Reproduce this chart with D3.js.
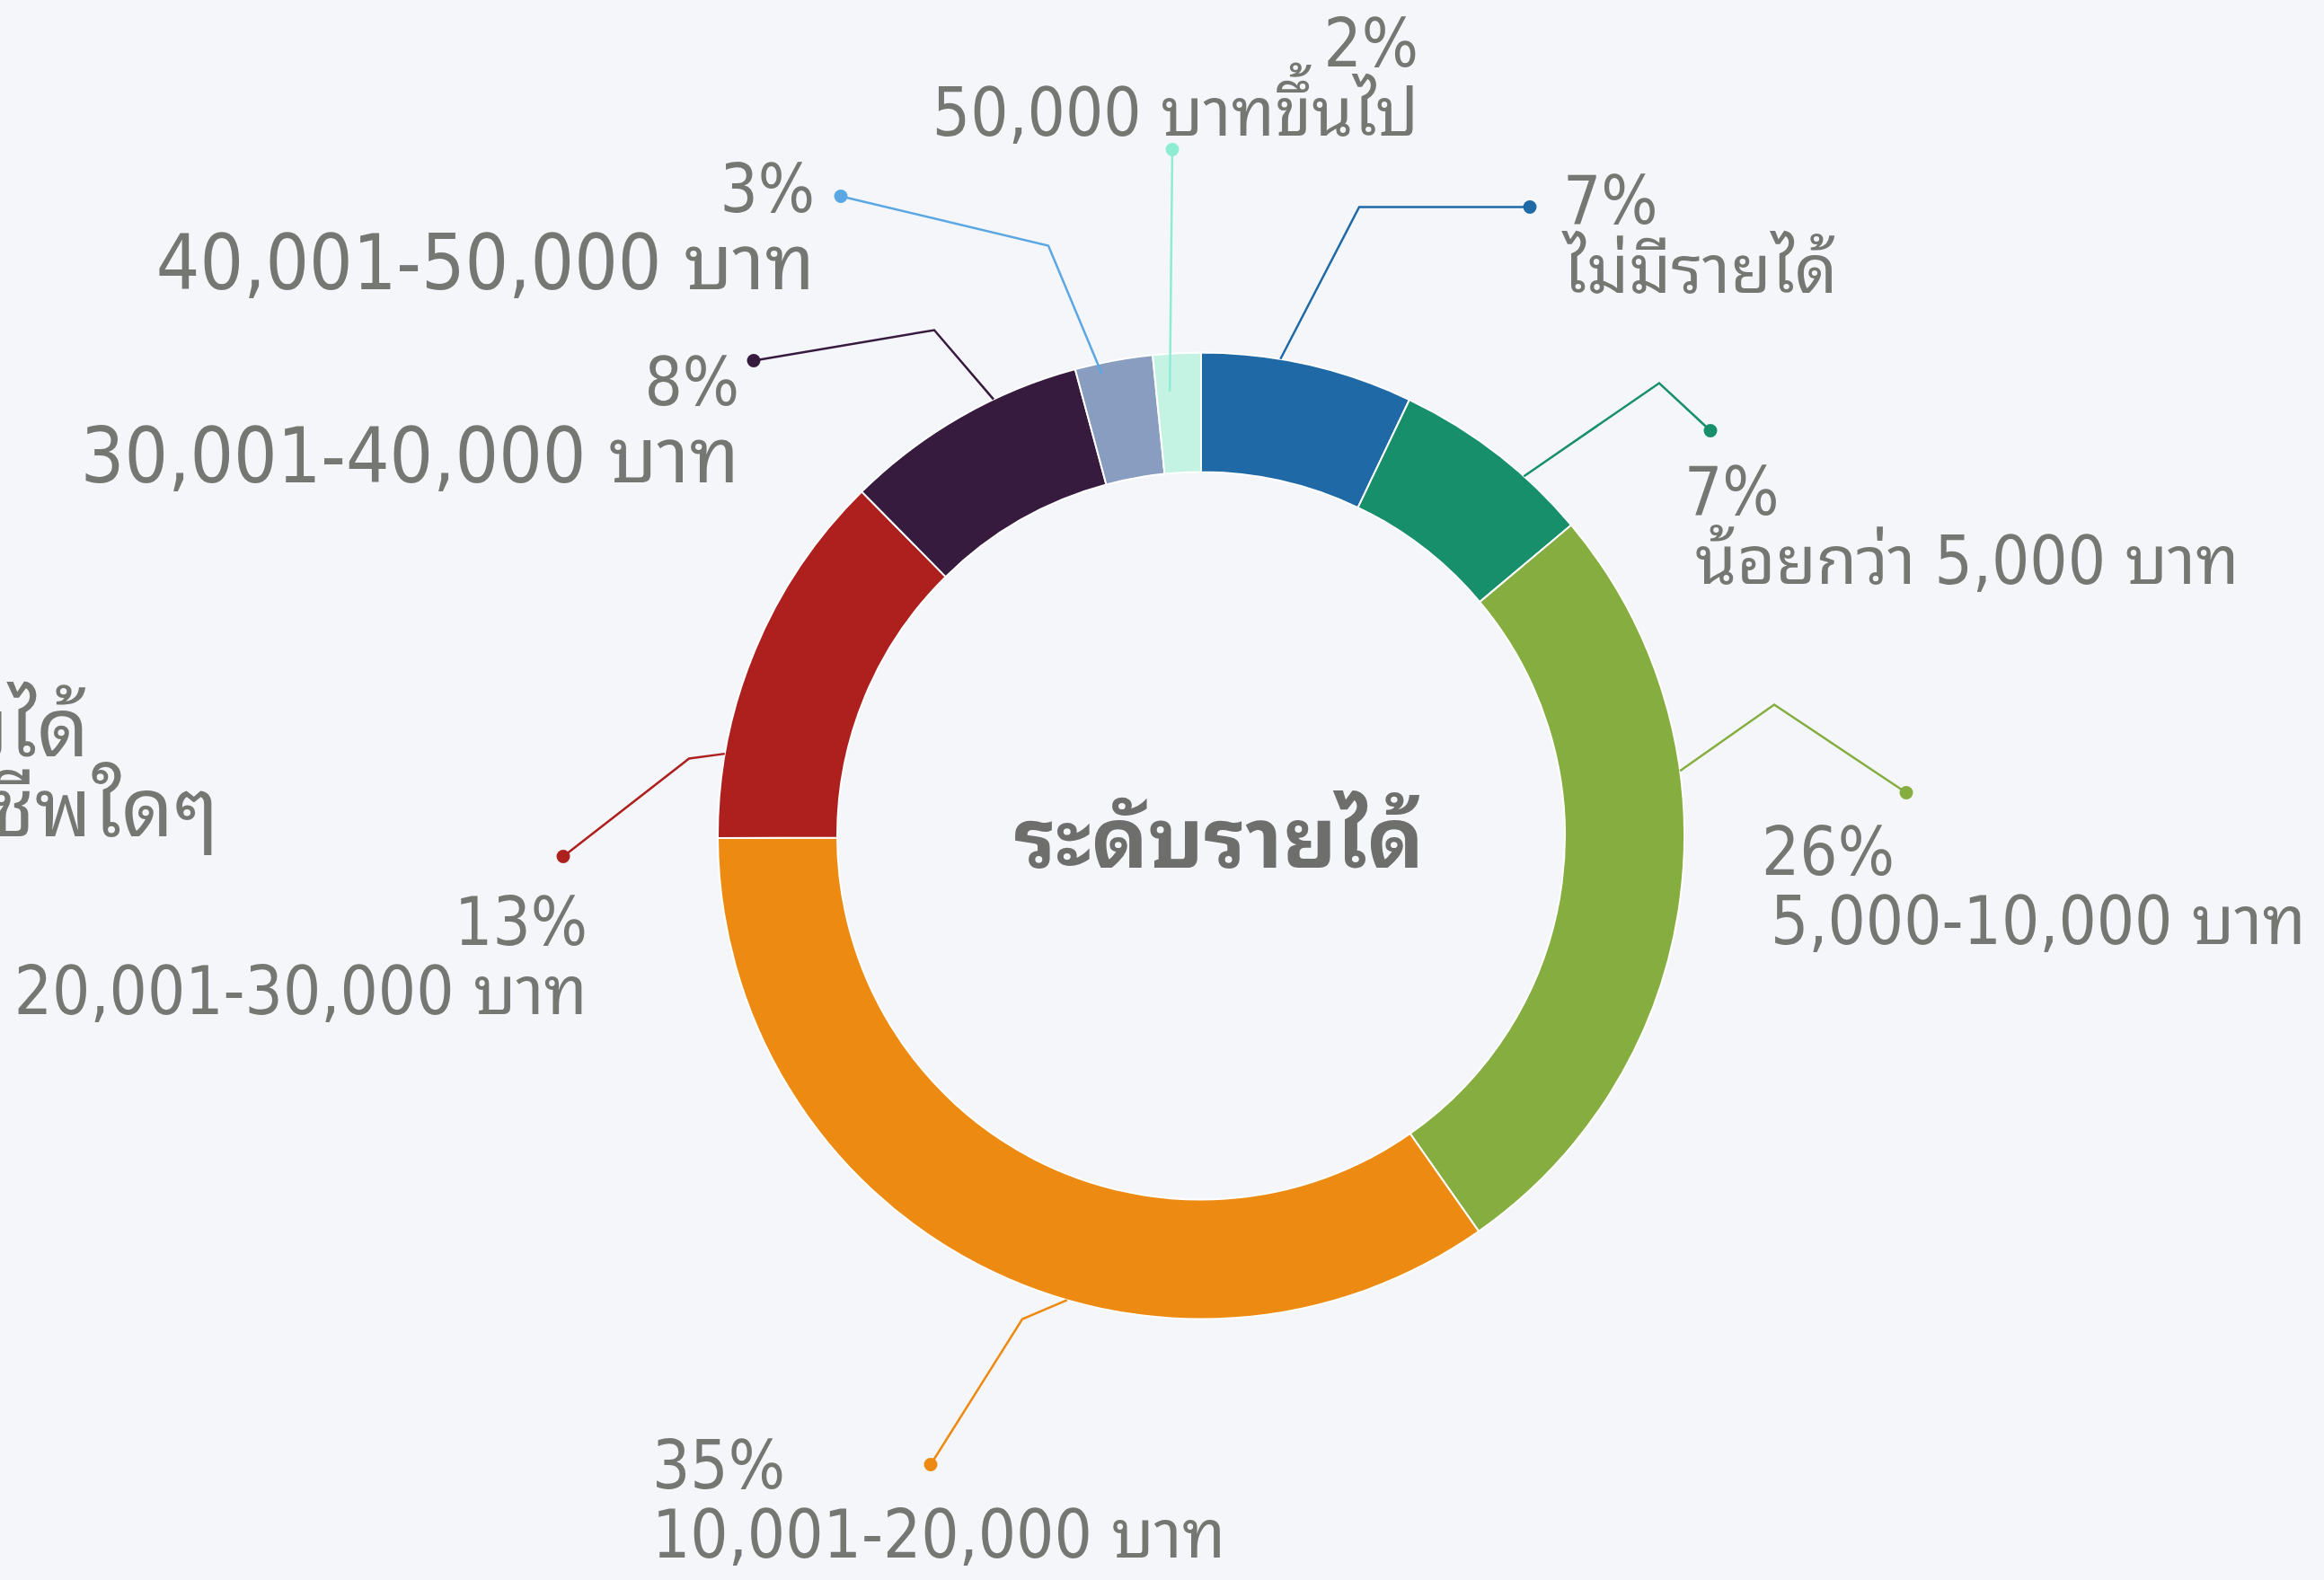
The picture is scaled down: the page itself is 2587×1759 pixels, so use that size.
<!DOCTYPE html>
<html>
<head>
<meta charset="utf-8">
<script src="https://cdn.jsdelivr.net/npm/d3@7"></script>
<style>
  html, body { margin: 0; padding: 0; background: #f5f6fa; }
  svg { display: block; }
  .label, .title {
    font-family: "DejaVu Sans Condensed", "Noto Sans Thai Looped", "Loma", "Garuda", "Noto Sans Thai", "Noto Sans", sans-serif;
  }
  .label { fill: #757773; }
  .title { fill: #6e6f6c; font-weight: bold; }
</style>
</head>
<body>
<div id="chart"></div>
<script>
// income level shares (percent of respondents), clockwise from 12 o'clock
const categories = [
  'ไม่มีรายได้',
  'น้อยกว่า 5,000 บาท',
  '5,000-10,000 บาท',
  '10,001-20,000 บาท',
  '20,001-30,000 บาท',
  '30,001-40,000 บาท',
  '40,001-50,000 บาท',
  '50,000 บาทขึ้นไป',
];
const values = [7.1, 6.8, 26.4, 34.7, 12.7, 8.2, 2.6, 1.6];
const sliceColors = ['#1e69a6', '#178f6b', '#86ad40', '#ed8a12', '#ad201d', '#361b3f', '#889dbf', '#c4f3e3'];
const tickColors = ['#1e69a6', '#178f6b', '#86ad40', '#ed8a12', '#ad201d', '#361b3f', '#5aa7e3', '#8eecd2'];
const centerTitle = 'ระดับรายได้';
const offChartLines = ['ไม่มีรายได้', 'ไม่ได้ประกอบอาชีพใดๆ'];

const width = 2587;
const height = 1759;
const cx = 1337;
const cy = 930.5;
const outerR = 538;
const innerR = 405;
const fontSize = 74;
const bigFontSize = 85;

// hand placed label spots (px from the centre)
// at: where along the slice the tick leaves it (0 = start, 1 = end)
const labelLayout = [
  { at: 0.37, elbow: [176, -700], dot: [366, -700], tx: 403, ty: -682, anchor: 'start' },
  { at: 0.67, elbow: [510, -504], dot: [567, -451], tx: 538, ty: -358, anchor: 'start', dx2: 12 },
  { at: 0.34, elbow: [638, -146], dot: [785, -48], tx: 624, ty: 43, anchor: 'start', dx2: 10 },
  { at: 0.41, elbow: [-199, 538], dot: [-301, 700], tx: -611, ty: 726, anchor: 'start' },
  { at: 0.22, elbow: [-570, -86], dot: [-710, 23], tx: -683, ty: 121, anchor: 'end' },
  { at: 0.65, elbow: [-297, -563], dot: [-498, -529], tx: -514, ty: -480, anchor: 'end', big: true },
  { at: 0.32, elbow: [-170, -657], dot: [-401, -712], tx: -430, ty: -695, anchor: 'end', big: true, r: 526 },
  { at: 0.30, elbow: null, dot: [-32, -764], tx: 242, ty: -857, anchor: 'end', r: 496 },
];

const svg = d3.select('#chart')
  .append('svg')
  .attr('width', width)
  .attr('height', height);

svg.append('rect')
  .attr('width', width)
  .attr('height', height)
  .attr('fill', '#f5f6fa');

const g = svg.append('g')
  .attr('transform', `translate(${cx}, ${cy})`);

const total = d3.sum(values);
const pct = d3.format('.0%');

const pie = d3.pie()
  .sort(null)
  .value(d => d);

const arcs = pie(values);

const arc = d3.arc()
  .innerRadius(innerR)
  .outerRadius(outerR);

g.selectAll('path.slice')
  .data(arcs)
  .join('path')
  .attr('class', 'slice')
  .attr('d', arc)
  .attr('fill', (d, i) => sliceColors[i])
  .attr('stroke', '#ffffff')
  .attr('stroke-width', 2);

const polar = (r, a) => [r * Math.sin(a), -r * Math.cos(a)];

arcs.forEach((d, i) => {
  const lay = labelLayout[i];
  const angle = d.startAngle + (d.endAngle - d.startAngle) * lay.at;
  const start = polar(lay.r || outerR, angle);
  const pts = lay.elbow ? [start, lay.elbow, lay.dot] : [start, lay.dot];

  g.append('path')
    .attr('d', d3.line()(pts))
    .attr('fill', 'none')
    .attr('stroke', tickColors[i])
    .attr('stroke-width', 2.5);

  g.append('circle')
    .attr('cx', lay.dot[0])
    .attr('cy', lay.dot[1])
    .attr('r', 7.5)
    .attr('fill', tickColors[i]);

  const text = g.append('text')
    .attr('class', 'label')
    .attr('text-anchor', lay.anchor)
    .attr('font-size', fontSize);

  text.append('tspan')
    .attr('x', lay.tx)
    .attr('y', lay.ty)
    .text(pct(values[i] / total));

  text.append('tspan')
    .attr('x', lay.tx + (lay.dx2 || 0))
    .attr('y', lay.ty + (lay.big ? 86 : 77))
    .attr('font-size', lay.big ? bigFontSize : fontSize)
    .text(categories[i]);
});

// label of a zero slice that falls off the left edge
const off = g.append('text')
  .attr('class', 'label')
  .attr('text-anchor', 'end')
  .attr('font-size', 90);

off.append('tspan')
  .attr('x', -1238)
  .attr('y', -89)
  .text(offChartLines[0]);

off.append('tspan')
  .attr('x', -1094)
  .attr('y', 0)
  .text(offChartLines[1]);

g.append('text')
  .attr('class', 'title')
  .attr('text-anchor', 'middle')
  .attr('x', 20)
  .attr('y', 35)
  .attr('font-size', 93)
  .text(centerTitle);
</script>
</body>
</html>
